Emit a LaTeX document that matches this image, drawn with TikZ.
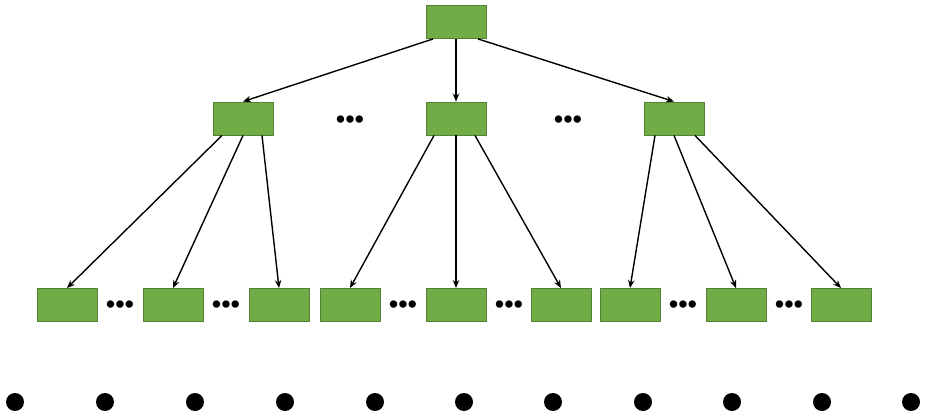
\documentclass[tikz,border=0pt]{standalone}
\usepackage{fontspec}
\newfontfamily\dotfont{Liberation Sans}
\usetikzlibrary{arrows.meta,calc}
\definecolor{boxgreen}{HTML}{70AD47}
\definecolor{boxedge}{HTML}{548235}
\begin{document}
\begin{tikzpicture}[x=1pt, y=-1pt, line width=1.4pt,
					box/.style = {draw=boxedge, fill=boxgreen, line width=0.9pt, minimum width=60pt, minimum height=33pt, inner sep=0pt},
					dot/.style = {circle, fill=black, inner sep=0pt, minimum size=18pt},
					more/.style = {inner sep=0pt, font=\dotfont\fontsize{27}{27}\selectfont},
					arr/.style = {-{Stealth[length=8pt,width=6.5pt]}}]
					
					\useasboundingbox (0,0) rectangle (930,420);
					
					\node[box] (r) at (456,22) {};
					
					\node[box] (a) at (243,118.5) {};
					\node[box] (b) at (456,118.5) {};
					\node[box] (c) at (674,118.5) {};
					
					\node[box] (a1) at (67,305) {};
					\node[box] (a2) at (173,305) {};
					\node[box] (a3) at (279,305) {};
					\node[box] (b1) at (350,305) {};
					\node[box] (b2) at (456,305) {};
					\node[box] (b3) at (561,305) {};
					\node[box] (c1) at (630,305) {};
					\node[box] (c2) at (736,305) {};
					\node[box] (c3) at (841,305) {};
					
					\draw[arr] ($(r.south)+(-23,0)$) to (a.north);
					\draw[arr] (r.south) to (b.north);
					\draw[arr] ($(r.south)+(22,0)$) to (c.north);
					
					\draw[arr] ($(a.south)+(-21,0)$) to (a1.north);
					\draw[arr] (a.south) to (a2.north);
					\draw[arr] ($(a.south)+(19,0)$) to (a3.north);
					\draw[arr] ($(b.south)+(-22,0)$) to (b1.north);
					\draw[arr] (b.south) to (b2.north);
					\draw[arr] ($(b.south)+(19,0)$) to (b3.north);
					\draw[arr] ($(c.south)+(-19,0)$) to (c1.north);
					\draw[arr] (c.south) to (c2.north);
					\draw[arr] ($(c.south)+(21,0)$) to (c3.north);
					
					\node[more] (m1) at (350,122) {•••};
					\node[more] (m2) at (568,122) {•••};
					\foreach \x [count=\i] in {120,226,403,509,683,789}
						\node[more] (n\i) at (\x,307) {•••};
					
					\foreach \x [count=\i] in {15,105,195,285,375,464,553,643,732,822,911}
						\node[dot] (d\i) at (\x,402) {};
					
				\end{tikzpicture}
\end{document}
